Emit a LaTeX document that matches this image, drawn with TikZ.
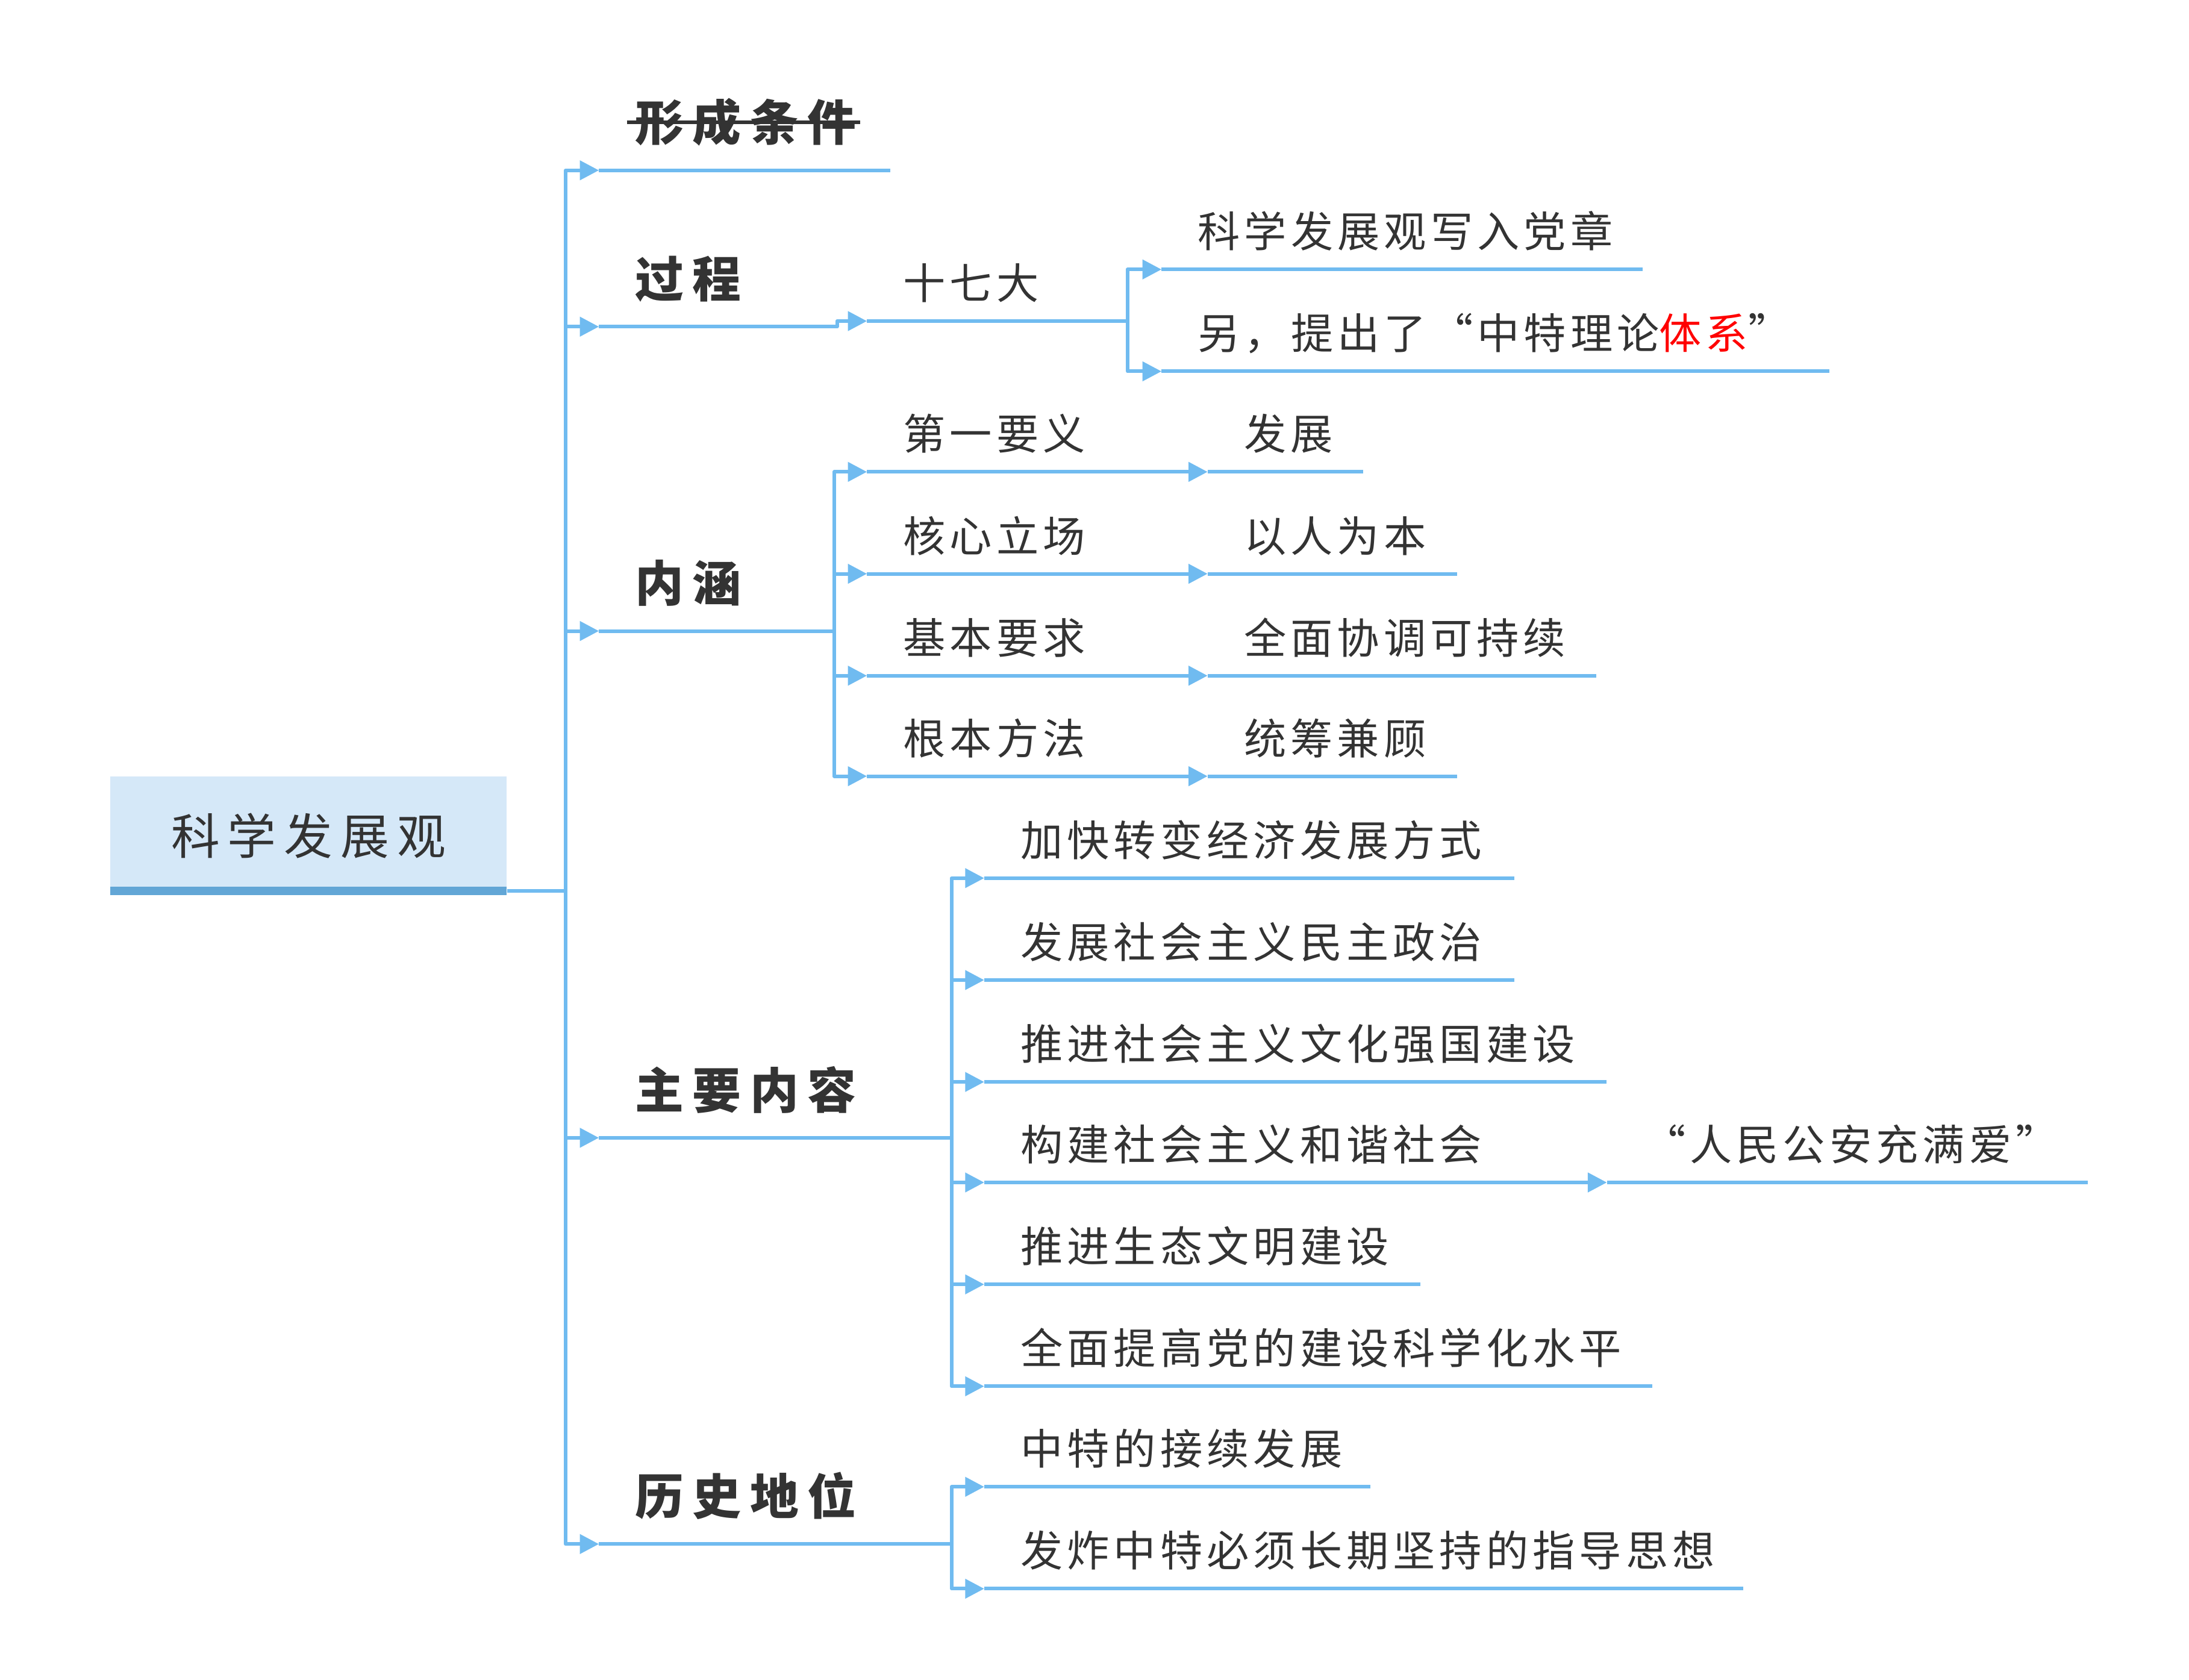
\documentclass[tikz,border=0pt]{standalone}
\usepackage{fontspec}
\setmainfont{Noto Sans CJK SC}
\usetikzlibrary{arrows.meta, positioning}

\definecolor{linkblue}{RGB}{112,187,240}
\definecolor{rootfill}{RGB}{213,232,248}
\definecolor{rootbar}{RGB}{98,166,214}
\definecolor{inkgray}{RGB}{51,51,51}

\tikzset{
  branch/.style={draw=linkblue, line width=1.7pt, line join=round},
  link/.style={branch, -{Triangle[length=9pt, width=9pt]}},
  strike/.style={draw=inkgray, line width=1.7pt},
  topic/.style={anchor=south west, inner xsep=17pt, inner ysep=0pt, align=left, text=inkgray},
  lvlone/.style={topic, font=\fontsize{23pt}{27pt}\selectfont\bfseries\addfontfeatures{LetterSpace=18}, text depth=13.7pt},
  lvltwo/.style={topic, font=\fontsize{20pt}{24pt}\selectfont\addfontfeatures{LetterSpace=10}, text depth=10.2pt},
  rootbox/.style={fill=rootfill, text=inkgray, minimum width=187.4pt, minimum height=56.1pt,
    font=\fontsize{23pt}{27pt}\selectfont\addfontfeatures{LetterSpace=16},
    path picture={\fill[rootbar] (path picture bounding box.south west) rectangle ([yshift=4pt]path picture bounding box.south east);}}
}

\begin{document}
\begin{tikzpicture}[x=0.6597pt, y=-0.6597pt]
  \path[use as bounding box] (0,0) rectangle (1568,1203);

  \node[rootbox] (root) at (221,598.5) {科学发展观};
  \coordinate (hub) at (405,638);

  \node[lvlone, text width=103.2pt] (xingcheng) at (429,122) {形成条件};
  \node[lvlone, text width=76.8pt] (guocheng) at (429,234) {过程};
  \node[lvlone, text width=76.8pt] (neihan) at (429,452) {内涵};
  \node[lvlone, text width=132.2pt] (zhuyao) at (429,815) {主要内容};
  \node[lvlone, text width=132.2pt] (lishi) at (429,1106) {历史地位};
  \draw[strike] ([xshift=-4pt, yshift=8.7pt]xingcheng.text) -- ++(110.2pt,0);

  \node[lvltwo, text width=88.7pt] (shiqi) at (621,230) {十七大};
  \node[lvltwo, text width=192.9pt] (rudang) at (832,193) {科学发展观写入党章};
  \node[lvltwo, text width=281.3pt] (lilun) at (832,266) {另，提出了“中特理论\textcolor{red}{体系}”};

  \node[lvltwo, text width=119pt] (diyi) at (621,338) {第一要义};
  \node[lvltwo, text width=119pt] (hexin) at (621,411) {核心立场};
  \node[lvltwo, text width=119pt] (jiben) at (621,484) {基本要求};
  \node[lvltwo, text width=119pt] (genben) at (621,556) {根本方法};
  \node[lvltwo, text width=39.2pt] (fazhan) at (865,338) {发展};
  \node[lvltwo, text width=83.4pt] (yiren) at (865,411) {以人为本};
  \node[lvltwo, text width=149.4pt] (quanmian) at (865,484) {全面协调可持续};
  \node[lvltwo, text width=83.4pt] (tongchou) at (865,556) {统筹兼顾};

  \node[lvltwo, text width=216pt] (jiakuai) at (705,629) {加快转变经济发展方式};
  \node[lvltwo, text width=216pt] (minzhu) at (705,702) {发展社会主义民主政治};
  \node[lvltwo, text width=259.6pt] (wenhua) at (705,775) {推进社会主义文化强国建设};
  \node[lvltwo, text width=252.3pt] (hexie) at (705,847) {构建社会主义和谐社会};
  \node[lvltwo, text width=192.9pt] (gongan) at (1151,847) {“人民公安充满爱”};
  \node[lvltwo, text width=171.8pt] (shengtai) at (705,920) {推进生态文明建设};
  \node[lvltwo, text width=281.3pt] (dangjian) at (705,993) {全面提高党的建设科学化水平};

  \node[lvltwo, text width=148.1pt] (jiexu) at (705,1065) {中特的接续发展};
  \node[lvltwo, text width=324.2pt] (zhidao) at (705,1138) {发炸中特必须长期坚持的指导思想};

  \foreach \n in {xingcheng,guocheng,neihan,zhuyao,lishi,shiqi,rudang,lilun,diyi,hexin,jiben,genben,fazhan,yiren,quanmian,tongchou,jiakuai,minzhu,wenhua,hexie,gongan,shengtai,dangjian,jiexu,zhidao}
    \draw[branch] (\n.south west) -- (\n.south east);

  \draw[branch] (root.south east |- hub) -- (hub);
  \foreach \n in {xingcheng,guocheng,neihan,zhuyao,lishi}
    \draw[link] (hub) |- (\n.south west);

  \draw[link] (guocheng.south east) -- ++(2,0) |- (shiqi.south west);
  \foreach \n in {rudang,lilun}
    \draw[link] (shiqi.south east) |- (\n.south west);

  \foreach \n in {diyi,hexin,jiben,genben}
    \draw[link] (neihan.south east) |- (\n.south west);
  \draw[link] (diyi.south east) -- (fazhan.south west);
  \draw[link] (hexin.south east) -- (yiren.south west);
  \draw[link] (jiben.south east) -- (quanmian.south west);
  \draw[link] (genben.south east) -- (tongchou.south west);

  \foreach \n in {jiakuai,minzhu,wenhua,hexie,shengtai,dangjian}
    \draw[link] (zhuyao.south east) |- (\n.south west);
  \draw[link] (hexie.south east) -- (gongan.south west);

  \foreach \n in {jiexu,zhidao}
    \draw[link] (lishi.south east) |- (\n.south west);
\end{tikzpicture}
\end{document}
